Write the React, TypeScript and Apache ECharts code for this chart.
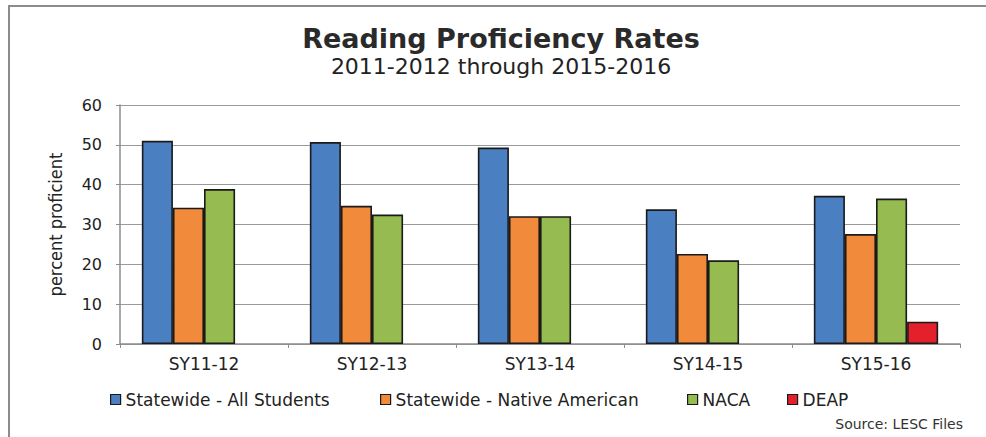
import React, { useEffect, useRef } from "react";
import * as echarts from "echarts";

const categories = ["SY11-12", "SY12-13", "SY13-14", "SY14-15", "SY15-16"];
const seriesNames = ["Statewide - All Students", "Statewide - Native American", "NACA", "DEAP"];
const allStudents = [51.0, 50.7, 49.3, 33.8, 37.2];
const nativeAmerican = [34.2, 34.7, 32.1, 22.6, 27.6];
const naca = [38.9, 32.5, 32.1, 21.0, 36.5];
const deap: (number | null)[] = [null, null, null, null, 5.6];
const colors = ["#4a7fc1", "#f28a3c", "#96bb50", "#e3202b"];
const yTicks = { min: 0, max: 60, interval: 10 };

const titleText = "Reading Proficiency Rates";
const subtitleText = "2011-2012 through 2015-2016";
const sourceText = "Source: LESC Files";
const yAxisName = "percent proficient";

export default function App() {
  const ref = useRef<HTMLDivElement>(null);
  useEffect(() => {
    if (!ref.current) return;
    const chart = echarts.init(ref.current, null, { renderer: "svg" });
    const dataSets = [allStudents, nativeAmerican, naca, deap];
    const legendLefts = [105, 375, 682, 782];
    chart.setOption({
      animation: false,
      backgroundColor: "#ffffff",
      grid: { left: 120, right: 26, top: 105, bottom: 93 },
      graphic: [
        {
          type: "rect",
          shape: { x: 9, y: 6, width: 1000, height: 500 },
          style: { fill: "none", stroke: "#8c8c8c", lineWidth: 2 },
          silent: true,
        },
        {
          type: "text",
          x: 501,
          y: 38,
          style: {
            text: titleText,
            font: "600 27px 'DejaVu Sans'",
            fill: "#2a2a2a",
            textAlign: "center",
            textVerticalAlign: "middle",
          },
        },
        {
          type: "text",
          x: 501,
          y: 66,
          style: {
            text: subtitleText,
            font: "22px 'DejaVu Sans'",
            fill: "#222222",
            textAlign: "center",
            textVerticalAlign: "middle",
          },
        },
        {
          type: "text",
          x: 963,
          y: 424,
          style: {
            text: sourceText,
            font: "14px 'DejaVu Sans'",
            fill: "#333333",
            textAlign: "right",
            textVerticalAlign: "middle",
          },
        },
      ],
      legend: seriesNames.map((n, i) => ({
        data: [n],
        left: legendLefts[i],
        top: 386,
        itemWidth: 10,
        itemHeight: 10,
        icon: "rect",
        itemStyle: { borderColor: "#1a1a1a", borderWidth: 1.2 },
        textStyle: { fontFamily: "DejaVu Sans", fontSize: 17, color: "#222222" },
      })),
      xAxis: {
        type: "category",
        data: categories,
        axisLine: { lineStyle: { color: "#8c8c8c", width: 1.5 } },
        axisTick: { show: true, length: 4, lineStyle: { color: "#8c8c8c" } },
        axisLabel: { fontFamily: "DejaVu Sans", fontSize: 17, color: "#222222", margin: 11 },
      },
      yAxis: {
        type: "value",
        min: yTicks.min,
        max: yTicks.max,
        interval: yTicks.interval,
        name: yAxisName,
        nameLocation: "middle",
        nameGap: 56,
        nameTextStyle: { fontFamily: "'Liberation Sans Narrow', 'DejaVu Sans Condensed', sans-serif", fontSize: 18, color: "#222222" },
        axisLine: { show: true, lineStyle: { color: "#8c8c8c", width: 1.5 } },
        axisTick: { show: true, length: 4, lineStyle: { color: "#8c8c8c" } },
        axisLabel: { fontFamily: "DejaVu Sans", fontSize: 16, color: "#222222", margin: 18 },
        splitLine: { lineStyle: { color: "#9a9a9a", width: 1.2 } },
      },
      series: seriesNames.map((n, i) => ({
        name: n,
        type: "bar",
        data: dataSets[i],
        barGap: "0%",
        barCategoryGap: "26%",
        itemStyle: { color: colors[i], borderColor: "#1a1a1a", borderWidth: 1.6 },
      })),
    });
    return () => chart.dispose();
  }, []);
  return (
    <div
      ref={ref}
      style={{ position: "fixed", left: 0, top: 0, width: 986, height: 437 }}
    />
  );
}
